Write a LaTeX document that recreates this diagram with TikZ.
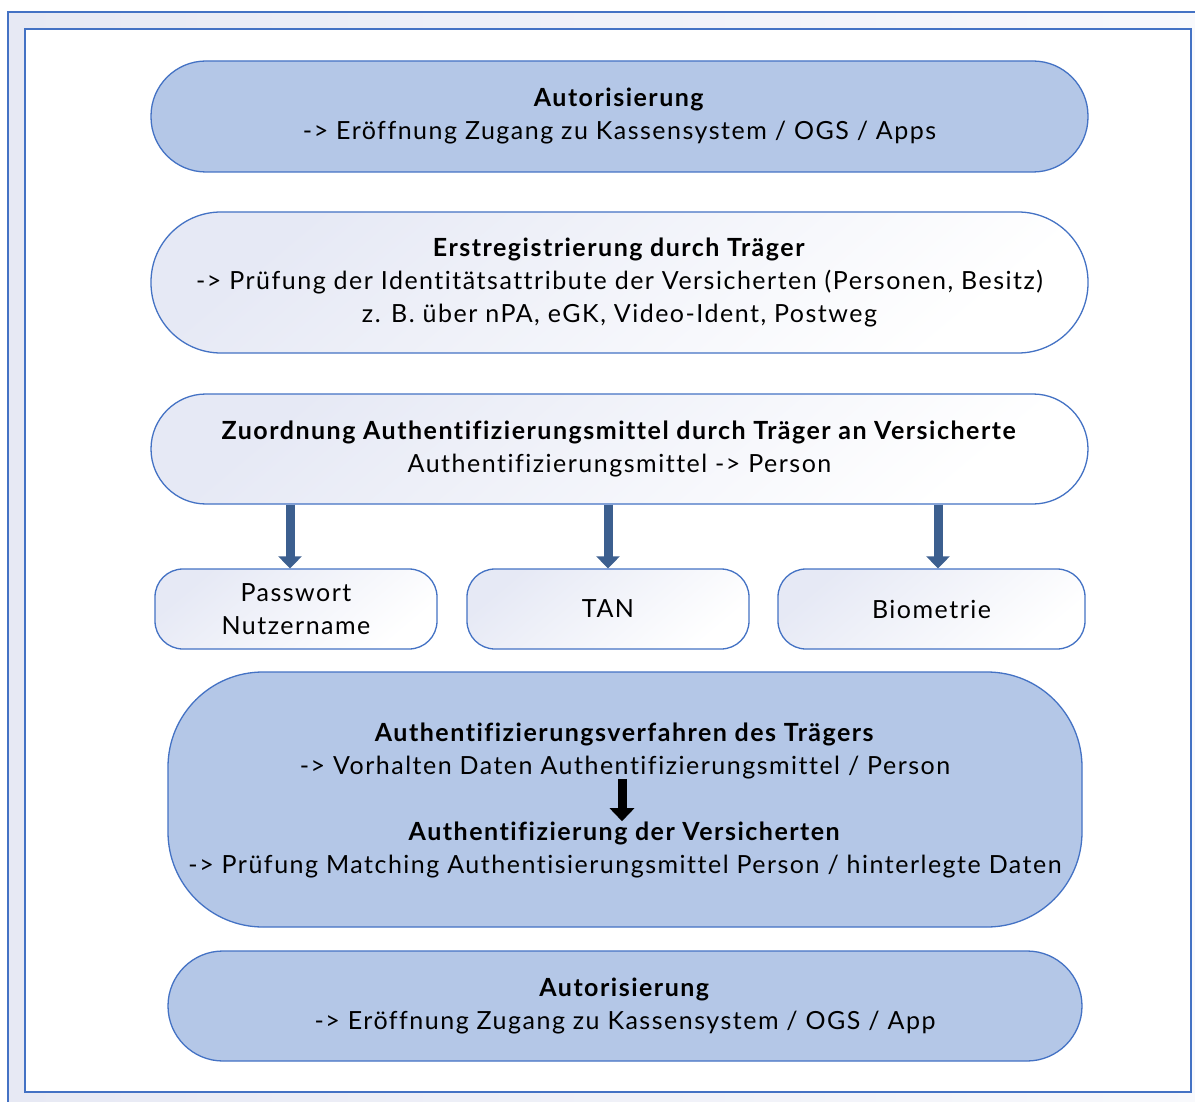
\documentclass[tikz,border=0pt]{standalone}
\usepackage{fontspec}
\setmainfont[LetterSpace=6,Ligatures={NoCommon}]{Lato}
\usetikzlibrary{arrows.meta}
\definecolor{boxblue}{HTML}{B4C7E7}
\definecolor{edgeblue}{HTML}{4472C4}
\definecolor{lav}{HTML}{E6E9F5}
\definecolor{arrowblue}{HTML}{3C5F8F}
\definecolor{bandl}{HTML}{E7E9F4}
\definecolor{bandr}{HTML}{F8F9FC}
\tikzset{
  base/.style={draw=edgeblue, line width=1.3pt, align=center, inner sep=0pt,
    font=\fontsize{25}{33}\selectfont},
  solidbox/.style={base, fill=boxblue},
  softbox/.style={base, top color=lav, bottom color=white, shading angle=40},
  bluearrow/.style={draw=arrowblue, line width=9pt, -{Triangle[width=23pt,length=12pt]}, arrowblue},
  blackarrow/.style={draw=black, line width=9pt, -{Triangle[width=24pt,length=13pt]}},
  txt/.style={align=center, inner sep=0pt, font=\fontsize{25}{33}\selectfont},
}
\begin{document}
\begin{tikzpicture}[x=1pt,y=-1pt]
\useasboundingbox (0,0) rectangle (1195,1102);
% outer frame with tinted band and inner white panel
\shade[left color=bandl, right color=bandr, draw=edgeblue, line width=1.3pt] (8,12) rectangle (1215,1120);
\draw[edgeblue, line width=1.3pt, fill=white] (25,29) rectangle (1191,1092);

% top authorisation
\node[solidbox, minimum width=937pt, minimum height=111pt, rounded corners=55pt] (auth1) at (619.5,116.5)
  {\textbf{Autorisierung}\\-> Eröffnung Zugang zu Kassensystem / OGS / Apps};

% initial registration
\node[softbox, minimum width=937pt, minimum height=141pt, rounded corners=70pt] (reg) at (619.5,282.5)
  {\textbf{Erstregistrierung durch Träger}\\-> Prüfung der Identitätsattribute der Versicherten (Personen, Besitz)\\z. B. über nPA, eGK, Video-Ident, Postweg};

% assignment of authentication means
\node[softbox, minimum width=937pt, minimum height=110pt, rounded corners=55pt] (zu) at (619.5,449)
  {\textbf{Zuordnung Authentifizierungsmittel durch Träger an Versicherte}\\Authentifizierungsmittel -> Person};

% the three means
\node[softbox, minimum width=282pt, minimum height=80pt, rounded corners=28pt] (pw) at (296,609)
  {Passwort\\Nutzername};
\node[softbox, minimum width=282pt, minimum height=80pt, rounded corners=28pt] (tan) at (608,609) {TAN};
\node[softbox, minimum width=307pt, minimum height=80pt, rounded corners=28pt] (bio) at (931.5,609) {Biometrie};

\draw[bluearrow] (zu.south -| 290,0) -- (pw.north -| 290,0);
\draw[bluearrow] (zu.south -| tan.north) -- (tan.north);
\draw[bluearrow] (zu.south -| 938,0) -- (bio.north -| 938,0);

% authentication procedure
\node[solidbox, minimum width=914pt, minimum height=255pt, rounded corners=95pt] (proc) at (625,799.5) {};
\node[txt] (p1) at (625,750.5)
  {\textbf{Authentifizierungsverfahren des Trägers}\\-> Vorhalten Daten Authentifizierungsmittel / Person};
\node[txt] (p2) at (625,849.5)
  {\textbf{Authentifizierung der Versicherten}\\-> Prüfung Matching Authentisierungsmittel Person / hinterlegte Daten};
\draw[blackarrow] ([xshift=-3pt]p1.south) -- ([xshift=-3pt]p2.north);

% bottom authorisation
\node[solidbox, minimum width=914pt, minimum height=110pt, rounded corners=55pt] (auth2) at (625,1006)
  {\textbf{Autorisierung}\\-> Eröffnung Zugang zu Kassensystem / OGS / App};
\end{tikzpicture}
\end{document}
